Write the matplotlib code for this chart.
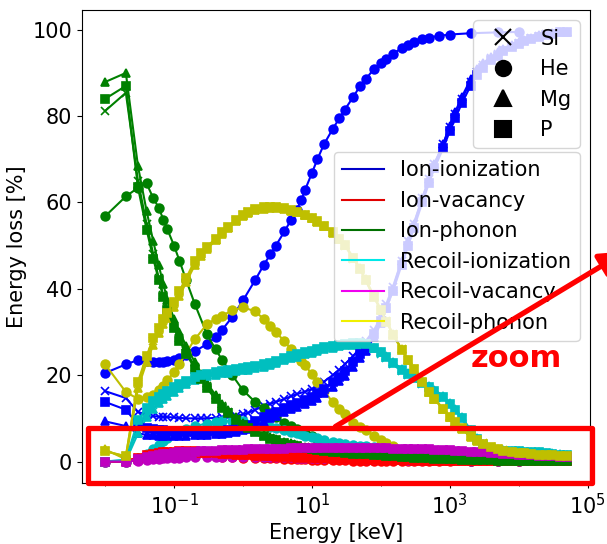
import matplotlib
matplotlib.use("Agg")
import matplotlib.pyplot as plt
from matplotlib.lines import Line2D
from matplotlib.patches import Rectangle, FancyArrowPatch
from matplotlib.ticker import FixedLocator, NullFormatter

# ---------------------------------------------------------------------------
# Energy grids [keV]
# ---------------------------------------------------------------------------
energy_heavy = [0.01, 0.02, 0.03, 0.04, 0.05, 0.06, 0.07, 0.08,
                0.1, 0.12, 0.15, 0.2, 0.25, 0.3, 0.4, 0.5, 0.6, 0.8,
                1, 1.2, 1.5, 2, 2.5, 3, 4, 5, 6, 8,
                10, 12, 15, 20, 25, 30, 40, 50, 60, 80,
                100, 120, 150, 200, 250, 300, 400, 500, 600, 800,
                1000, 1200, 1500, 2000, 2500, 3000, 4000, 5000, 6000, 8000,
                10000, 12000, 15000, 20000, 25000, 30000, 40000, 50000]

energy_he = [0.01, 0.02, 0.03, 0.04, 0.05, 0.06, 0.07, 0.08,
             0.1, 0.12, 0.15, 0.2, 0.3, 0.4, 0.5, 0.7,
             1, 1.5, 2, 2.5, 3, 4, 5, 6, 7, 8,
             10, 12, 15, 20, 25, 30, 40, 50, 60, 80,
             100, 120, 150, 200, 250, 300, 400, 500, 700,
             1000, 2000, 5000, 10000]

# ---------------------------------------------------------------------------
# Si
# ---------------------------------------------------------------------------
si_ion_ionization = [16.3, 14.7, 11.5, 10.8, 10.5, 10.4, 10.3, 10.3,
                     10.2, 10.1, 10.0, 10.0, 10.0, 10.0, 10.1, 10.2, 10.3, 10.6,
                     10.9, 11.3, 12.0, 12.8, 13.4, 13.8, 14.5, 15.1, 15.6, 16.2,
                     16.8, 17.5, 18.5, 20.0, 21.3, 22.5, 24.5, 26.3, 27.8, 30.5,
                     33.5, 36.5, 40.5, 46.5, 51.0, 55.0, 61.0, 65.5, 69.0, 73.5,
                     77.5, 80.5, 84.0, 88.0, 90.3, 91.8, 93.5, 94.5, 95.3, 96.3,
                     97.0, 97.5, 98.0, 98.6, 99.0, 99.2, 99.5, 99.6]
si_ion_vacancy = [0.0, 0.1, 0.8, 1.3, 1.6, 1.8, 2.0, 2.1,
                  2.2, 2.3, 2.3, 2.3, 2.2, 2.2, 2.1, 2.0, 1.9, 1.8,
                  1.7, 1.6, 1.5, 1.4, 1.3, 1.25, 1.15, 1.1, 1.0, 0.95,
                  0.9, 0.85, 0.8, 0.75, 0.7, 0.65, 0.6, 0.55, 0.5, 0.45,
                  0.4, 0.38, 0.35, 0.3, 0.28, 0.25, 0.22, 0.2, 0.18, 0.16,
                  0.15, 0.13, 0.12, 0.1, 0.09, 0.08, 0.07, 0.06, 0.05, 0.05,
                  0.04, 0.04, 0.03, 0.03, 0.03, 0.02, 0.02, 0.02]
si_ion_phonon = [81.2, 85.4, 65.0, 55.0, 48.0, 42.5, 38.5, 35.5,
                 31.5, 28.5, 25.5, 22.0, 19.5, 17.5, 14.8, 12.8, 11.5, 9.9,
                 8.6, 7.8, 6.9, 6.0, 5.4, 5.0, 4.4, 4.0, 3.7, 3.3,
                 3.0, 2.8, 2.6, 2.4, 2.2, 2.1, 1.9, 1.8, 1.7, 1.55,
                 1.45, 1.35, 1.25, 1.1, 1.0, 0.95, 0.85, 0.75, 0.7, 0.6,
                 0.55, 0.5, 0.45, 0.4, 0.35, 0.3, 0.25, 0.22, 0.2, 0.17,
                 0.15, 0.13, 0.12, 0.1, 0.09, 0.08, 0.07, 0.06]
si_recoil_ionization = [0.0, 0.3, 8.0, 11.5, 13.2, 14.3, 15.1, 15.8,
                        16.8, 17.5, 18.3, 19.2, 19.7, 20.0, 20.4, 20.6, 20.8, 21.1,
                        21.3, 21.5, 21.8, 22.2, 22.6, 23.0, 23.6, 24.1, 24.5, 25.0,
                        25.4, 25.8, 26.2, 26.5, 26.8, 27.0, 27.2, 27.2, 27.0, 26.0,
                        25.0, 24.0, 22.5, 21.0, 20.0, 19.2, 18.0, 17.0, 16.2, 14.8,
                        13.2, 11.8, 9.8, 7.0, 5.0, 3.8, 2.9, 2.6, 2.5, 2.4,
                        2.4, 2.3, 2.2, 2.0, 1.9, 1.8, 1.6, 1.4]
si_recoil_vacancy = [0.0, 0.0, 0.5, 0.9, 1.2, 1.4, 1.6, 1.7,
                     1.9, 2.0, 2.1, 2.2, 2.3, 2.3, 2.4, 2.5, 2.5, 2.6,
                     2.6, 2.7, 2.7, 2.8, 2.8, 2.9, 2.9, 3.0, 3.0, 3.0,
                     3.1, 3.1, 3.1, 3.1, 3.1, 3.1, 3.1, 3.1, 3.1, 3.0,
                     3.0, 3.0, 2.9, 2.9, 2.8, 2.8, 2.7, 2.7, 2.6, 2.5,
                     2.5, 2.4, 2.3, 2.2, 2.1, 2.0, 1.9, 1.8, 1.7, 1.6,
                     1.5, 1.45, 1.4, 1.3, 1.25, 1.2, 1.1, 1.0]
si_recoil_phonon = [2.4, 1.2, 18.0, 24.0, 28.0, 30.5, 32.5, 34.0,
                    36.5, 39.0, 42.0, 46.0, 48.0, 49.5, 51.4, 53.0, 54.2, 55.8,
                    57.0, 57.7, 58.3, 58.7, 58.9, 58.9, 58.6, 58.2, 57.8, 57.0,
                    56.3, 55.5, 54.5, 53.0, 51.5, 50.0, 47.0, 44.5, 42.0, 38.0,
                    35.0, 32.5, 29.5, 26.0, 23.5, 21.5, 18.5, 16.3, 14.5, 12.3,
                    10.5, 9.2, 7.8, 6.0, 5.0, 4.2, 3.4, 2.9, 2.6, 2.3,
                    2.1, 1.9, 1.8, 1.6, 1.5, 1.4, 1.3, 1.2]

# ---------------------------------------------------------------------------
# He
# ---------------------------------------------------------------------------
he_ion_ionization = [20.5, 22.5, 23.5, 23.3, 23.0, 23.0, 23.1, 23.2,
                     23.5, 24.0, 24.6, 25.5, 27.2, 28.8, 30.5, 33.5,
                     37.3, 42.0, 45.5, 48.0, 50.0, 53.3, 56.0, 58.3, 60.5, 63.0,
                     66.8, 70.0, 73.5, 77.0, 79.5, 81.5, 84.5, 87.0, 88.5, 91.0,
                     92.3, 93.3, 94.5, 95.7, 96.5, 97.1, 97.8, 98.2, 98.6,
                     98.9, 99.2, 99.4, 99.5]
he_ion_vacancy = [0.0, 0.0, 0.3, 0.6, 0.8, 1.0, 1.1, 1.2,
                  1.3, 1.3, 1.3, 1.3, 1.2, 1.2, 1.1, 1.0,
                  0.9, 0.8, 0.8, 0.7, 0.7, 0.6, 0.6, 0.5, 0.5, 0.5,
                  0.4, 0.4, 0.35, 0.3, 0.3, 0.25, 0.2, 0.2, 0.2, 0.15,
                  0.15, 0.1, 0.1, 0.1, 0.1, 0.1, 0.05, 0.05, 0.05,
                  0.05, 0.03, 0.02, 0.02]
he_ion_phonon = [56.8, 61.4, 63.4, 64.4, 61.0, 58.8, 56.0, 53.8,
                 50.0, 46.5, 42.0, 36.5, 29.5, 26.0, 23.5, 20.0,
                 16.5, 13.8, 12.3, 11.2, 10.3, 9.0, 8.2, 7.5, 7.0, 6.6,
                 5.9, 5.3, 4.7, 4.0, 3.5, 3.2, 2.7, 2.4, 2.1, 1.8,
                 1.6, 1.4, 1.2, 1.0, 0.9, 0.8, 0.6, 0.5, 0.4,
                 0.3, 0.2, 0.1, 0.1]
he_recoil_ionization = [0.0, 0.0, 0.8, 1.8, 2.8, 3.8, 4.7, 5.5,
                        6.3, 7.0, 7.6, 8.2, 8.8, 9.1, 9.3, 9.4,
                        9.3, 9.0, 8.6, 8.0, 7.8, 7.3, 6.9, 6.6, 6.3, 6.0,
                        5.7, 5.4, 5.0, 4.5, 4.3, 4.1, 3.8, 3.6, 3.5, 3.3,
                        3.0, 2.8, 2.6, 2.4, 2.2, 2.0, 1.8, 1.6, 1.4,
                        1.2, 0.9, 0.7, 0.5]
he_recoil_vacancy = [0.0, 0.0, 0.2, 0.4, 0.5, 0.6, 0.7, 0.8,
                     0.9, 0.9, 1.0, 1.0, 1.1, 1.1, 1.1, 1.1,
                     1.1, 1.1, 1.0, 1.0, 1.0, 1.0, 1.0, 0.9, 0.9, 0.9,
                     0.9, 0.9, 0.8, 0.8, 0.8, 0.7, 0.7, 0.7, 0.6, 0.6,
                     0.6, 0.5, 0.5, 0.5, 0.4, 0.4, 0.4, 0.3, 0.3,
                     0.3, 0.2, 0.2, 0.1]
he_recoil_phonon = [22.5, 16.1, 14.5, 15.0, 15.5, 16.5, 17.6, 18.8,
                    20.8, 22.5, 25.2, 28.3, 31.8, 33.0, 33.8, 35.0,
                    35.7, 34.8, 33.0, 31.3, 30.0, 27.8, 26.0, 24.5, 23.3, 22.3,
                    20.2, 18.3, 16.3, 13.8, 12.2, 10.9, 9.0, 8.0, 7.2, 6.0,
                    5.0, 4.4, 3.6, 2.5, 2.2, 1.9, 1.7, 1.5, 1.3,
                    1.1, 0.9, 0.7, 0.5]

# ---------------------------------------------------------------------------
# Mg
# ---------------------------------------------------------------------------
mg_ion_ionization = [9.3, 8.2, 6.5, 6.2, 6.1, 6.0, 6.0, 6.0,
                     6.0, 6.0, 6.0, 6.1, 6.1, 6.2, 6.3, 6.4, 6.6, 6.9,
                     7.2, 7.6, 8.3, 9.2, 10.0, 10.6, 11.4, 12.1, 12.7, 13.4,
                     14.0, 14.8, 15.8, 17.3, 18.6, 19.9, 22.0, 24.0, 25.6, 28.8,
                     32.0, 35.5, 40.0, 46.5, 51.0, 55.0, 61.0, 65.5, 69.0, 73.5,
                     77.8, 81.0, 84.5, 88.5, 90.8, 92.2, 93.8, 94.8, 95.6, 96.5,
                     97.2, 97.7, 98.2, 98.8, 99.1, 99.3, 99.5, 99.6]
mg_ion_vacancy = [0.0, 0.1, 0.7, 1.2, 1.5, 1.7, 1.8, 1.9,
                  2.0, 2.1, 2.1, 2.1, 2.0, 2.0, 1.9, 1.8, 1.7, 1.6,
                  1.5, 1.45, 1.35, 1.25, 1.2, 1.1, 1.05, 1.0, 0.92, 0.86,
                  0.8, 0.76, 0.72, 0.66, 0.62, 0.58, 0.53, 0.49, 0.45, 0.4,
                  0.36, 0.33, 0.3, 0.27, 0.25, 0.22, 0.2, 0.18, 0.16, 0.14,
                  0.13, 0.12, 0.1, 0.09, 0.08, 0.07, 0.06, 0.05, 0.05, 0.04,
                  0.04, 0.03, 0.03, 0.03, 0.02, 0.02, 0.02, 0.02]
mg_ion_phonon = [87.9, 90.0, 68.4, 58.0, 51.0, 45.5, 41.0, 37.5,
                 33.0, 30.0, 26.8, 23.0, 20.3, 18.2, 15.4, 13.3, 11.9, 10.2,
                 8.9, 8.0, 7.1, 6.2, 5.6, 5.2, 4.6, 4.2, 3.9, 3.4,
                 3.1, 2.9, 2.7, 2.5, 2.3, 2.2, 2.0, 1.85, 1.75, 1.6,
                 1.5, 1.4, 1.3, 1.15, 1.05, 1.0, 0.9, 0.8, 0.72, 0.63,
                 0.57, 0.52, 0.47, 0.41, 0.36, 0.32, 0.27, 0.23, 0.21, 0.18,
                 0.16, 0.14, 0.12, 0.1, 0.09, 0.08, 0.07, 0.06]
mg_recoil_ionization = [0.0, 0.2, 6.5, 10.2, 12.2, 13.5, 14.4, 15.1,
                        16.2, 17.0, 17.9, 18.8, 19.3, 19.7, 20.1, 20.4, 20.6, 20.9,
                        21.1, 21.3, 21.6, 22.0, 22.4, 22.8, 23.4, 23.9, 24.3, 24.8,
                        25.2, 25.6, 26.0, 26.4, 26.7, 26.9, 27.1, 27.1, 26.9, 26.2,
                        25.3, 24.4, 23.0, 21.5, 20.4, 19.6, 18.4, 17.4, 16.6, 15.2,
                        13.6, 12.2, 10.2, 7.4, 5.4, 4.1, 3.1, 2.7, 2.6, 2.5,
                        2.4, 2.3, 2.2, 2.1, 2.0, 1.9, 1.7, 1.5]
mg_recoil_vacancy = [0.0, 0.0, 0.4, 0.8, 1.1, 1.3, 1.5, 1.6,
                     1.8, 1.9, 2.0, 2.1, 2.2, 2.2, 2.3, 2.4, 2.4, 2.5,
                     2.5, 2.6, 2.6, 2.7, 2.7, 2.8, 2.8, 2.9, 2.9, 2.9,
                     3.0, 3.0, 3.0, 3.0, 3.0, 3.0, 3.0, 3.0, 3.0, 2.9,
                     2.9, 2.9, 2.8, 2.8, 2.7, 2.7, 2.6, 2.6, 2.5, 2.4,
                     2.4, 2.3, 2.2, 2.1, 2.0, 1.9, 1.8, 1.7, 1.6, 1.5,
                     1.45, 1.4, 1.35, 1.25, 1.2, 1.15, 1.05, 1.0]
mg_recoil_phonon = [2.8, 0.5, 17.0, 23.0, 27.0, 29.8, 31.8, 33.3,
                    35.8, 38.3, 41.5, 45.5, 47.6, 49.2, 51.2, 52.8, 54.0, 55.6,
                    56.8, 57.6, 58.2, 58.6, 58.8, 58.8, 58.5, 58.1, 57.7, 57.0,
                    56.3, 55.5, 54.5, 53.0, 51.6, 50.2, 47.2, 44.8, 42.2, 38.3,
                    35.2, 32.6, 29.5, 26.0, 23.4, 21.4, 18.4, 16.2, 14.4, 12.1,
                    10.2, 8.9, 7.5, 5.7, 4.7, 4.0, 3.2, 2.8, 2.5, 2.2,
                    2.0, 1.9, 1.7, 1.6, 1.5, 1.4, 1.3, 1.2]

# ---------------------------------------------------------------------------
# P
# ---------------------------------------------------------------------------
p_ion_ionization = [13.8, 12.0, 8.5, 7.8, 7.5, 7.3, 7.2, 7.1,
                    7.0, 7.0, 6.9, 6.9, 6.9, 6.9, 7.0, 7.1, 7.3, 7.6,
                    8.0, 8.5, 9.3, 10.2, 10.9, 11.5, 12.3, 13.0, 13.6, 14.3,
                    15.0, 15.8, 16.8, 18.3, 19.6, 20.9, 23.0, 24.9, 26.5, 29.5,
                    32.5, 35.5, 39.5, 45.5, 50.0, 54.0, 60.0, 64.5, 68.0, 72.5,
                    76.5, 79.5, 83.0, 87.0, 89.5, 91.2, 93.0, 94.0, 95.0, 96.0,
                    96.7, 97.3, 97.8, 98.4, 98.8, 99.1, 99.4, 99.5]
p_ion_vacancy = [0.0, 0.1, 0.9, 1.4, 1.7, 1.9, 2.1, 2.2,
                 2.3, 2.4, 2.4, 2.4, 2.3, 2.3, 2.2, 2.1, 2.0, 1.9,
                 1.8, 1.7, 1.6, 1.5, 1.4, 1.35, 1.25, 1.2, 1.1, 1.0,
                 0.95, 0.9, 0.85, 0.8, 0.75, 0.7, 0.65, 0.6, 0.55, 0.5,
                 0.45, 0.42, 0.38, 0.33, 0.3, 0.27, 0.24, 0.22, 0.2, 0.18,
                 0.16, 0.14, 0.13, 0.11, 0.1, 0.09, 0.08, 0.07, 0.06, 0.05,
                 0.05, 0.04, 0.04, 0.03, 0.03, 0.03, 0.02, 0.02]
p_ion_phonon = [84.0, 87.0, 63.5, 53.7, 47.0, 42.0, 38.0, 35.0,
                31.0, 28.0, 25.0, 21.5, 19.0, 17.0, 14.4, 12.5, 11.2, 9.7,
                8.5, 7.7, 6.8, 5.9, 5.3, 4.9, 4.3, 3.9, 3.6, 3.2,
                2.9, 2.7, 2.5, 2.3, 2.1, 2.0, 1.85, 1.75, 1.65, 1.5,
                1.4, 1.3, 1.2, 1.05, 0.97, 0.9, 0.8, 0.72, 0.66, 0.58,
                0.52, 0.47, 0.43, 0.38, 0.33, 0.29, 0.24, 0.21, 0.19, 0.16,
                0.14, 0.12, 0.11, 0.1, 0.09, 0.08, 0.07, 0.06]
p_recoil_ionization = [0.0, 0.4, 9.5, 12.5, 14.0, 15.0, 15.7, 16.3,
                       17.3, 18.0, 18.7, 19.5, 20.0, 20.3, 20.7, 20.9, 21.1, 21.4,
                       21.6, 21.8, 22.1, 22.5, 22.9, 23.3, 23.9, 24.4, 24.8, 25.3,
                       25.7, 26.1, 26.5, 26.8, 27.0, 27.2, 27.4, 27.4, 27.2, 26.3,
                       25.3, 24.3, 22.8, 21.3, 20.2, 19.4, 18.2, 17.2, 16.4, 15.0,
                       13.4, 12.0, 10.0, 7.2, 5.2, 3.9, 3.0, 2.6, 2.5, 2.4,
                       2.4, 2.3, 2.2, 2.1, 2.0, 1.8, 1.6, 1.4]
p_recoil_vacancy = [0.0, 0.0, 0.6, 1.0, 1.3, 1.5, 1.7, 1.8,
                    2.0, 2.1, 2.2, 2.3, 2.4, 2.4, 2.5, 2.6, 2.6, 2.7,
                    2.7, 2.8, 2.8, 2.9, 2.9, 3.0, 3.0, 3.1, 3.1, 3.1,
                    3.2, 3.2, 3.2, 3.2, 3.2, 3.2, 3.2, 3.2, 3.2, 3.1,
                    3.1, 3.1, 3.0, 3.0, 2.9, 2.9, 2.8, 2.8, 2.7, 2.6,
                    2.6, 2.5, 2.4, 2.3, 2.2, 2.1, 2.0, 1.9, 1.8, 1.7,
                    1.6, 1.5, 1.45, 1.35, 1.3, 1.25, 1.15, 1.05]
p_recoil_phonon = [2.4, 1.2, 18.5, 24.5, 28.5, 31.0, 33.0, 34.5,
                   37.0, 39.5, 42.5, 46.5, 48.4, 49.8, 51.6, 53.2, 54.4, 56.0,
                   57.2, 57.9, 58.5, 58.9, 59.0, 59.0, 58.7, 58.3, 57.9, 57.1,
                   56.4, 55.6, 54.6, 53.1, 51.6, 50.1, 47.1, 44.6, 42.0, 38.0,
                   35.0, 32.4, 29.4, 25.9, 23.4, 21.4, 18.4, 16.2, 14.4, 12.2,
                   10.4, 9.1, 7.7, 5.9, 4.9, 4.1, 3.3, 2.8, 2.5, 2.2,
                   2.0, 1.9, 1.7, 1.6, 1.5, 1.4, 1.3, 1.2]

# ---------------------------------------------------------------------------
ions = ["Si", "He", "Mg", "P"]
ion_markers = ["x", "o", "^", "s"]
channels = ["Ion-ionization", "Ion-vacancy", "Ion-phonon",
            "Recoil-ionization", "Recoil-vacancy", "Recoil-phonon"]
line_colors = ["b", "r", "g", "c", "m", "y"]
legend_colors = ["#0000c8", "#e00000", "#007000", "#00e8e8", "#f000f0", "#f0f000"]
major_ticks = [1e-1, 1e1, 1e3, 1e5]
minor_ticks = [1e-2, 1e0, 1e2, 1e4]
y_ticks = [0, 20, 40, 60, 80, 100]

series = {
    "Si": (energy_heavy, [si_ion_ionization, si_ion_vacancy, si_ion_phonon,
                          si_recoil_ionization, si_recoil_vacancy, si_recoil_phonon]),
    "He": (energy_he, [he_ion_ionization, he_ion_vacancy, he_ion_phonon,
                       he_recoil_ionization, he_recoil_vacancy, he_recoil_phonon]),
    "Mg": (energy_heavy, [mg_ion_ionization, mg_ion_vacancy, mg_ion_phonon,
                          mg_recoil_ionization, mg_recoil_vacancy, mg_recoil_phonon]),
    "P": (energy_heavy, [p_ion_ionization, p_ion_vacancy, p_ion_phonon,
                         p_recoil_ionization, p_recoil_vacancy, p_recoil_phonon]),
}

FS = 15
W, H = 607, 544
fig = plt.figure(figsize=(W / 100, H / 100), dpi=100)
ax = fig.add_axes([82 / W, 1 - 483 / H, 508 / W, 473 / H])

for ion, mk in zip(ions, ion_markers):
    energies, curves = series[ion]
    for values, col in zip(curves, line_colors):
        ax.plot(energies, values, color=col, marker=mk, ms=6.3, lw=1.5, mew=1.2)

ax.set_xscale("log")
ax.xaxis.set_major_locator(FixedLocator(major_ticks))
ax.xaxis.set_minor_locator(FixedLocator(minor_ticks))
ax.xaxis.set_minor_formatter(NullFormatter())
ax.set_yticks(y_ticks)
ax.set_xlabel("Energy [keV]", fontsize=FS)
ax.set_ylabel("Energy loss [%]", fontsize=FS)
ax.tick_params(axis="both", which="major", labelsize=FS)

marker_handles = [Line2D([], [], ls="none", marker=m, color="k", ms=11, mew=1.5)
                  for m in ion_markers]
leg_ions = ax.legend(marker_handles, ions, loc="upper right", fontsize=FS)
ax.add_artist(leg_ions)
color_handles = [Line2D([], [], color=c, lw=1.5) for c in legend_colors]
ax.legend(color_handles, channels, loc="center right", fontsize=FS)

# zoom-in marker: frame around the low-percentage band and a pointer
def fpx(x, y):
    return x / W, 1 - y / H

x0, y0 = fpx(87.5, 483)
x1, y1 = fpx(591.5, 427.5)
fig.patches.append(Rectangle((x0, y0), x1 - x0, y1 - y0, transform=fig.transFigure,
                             fill=False, ec="red", lw=3.8, joinstyle="round",
                             figure=fig))
fig.add_artist(FancyArrowPatch(
    fpx(333, 428), fpx(628, 250), transform=fig.transFigure,
    arrowstyle="-|>", mutation_scale=38, lw=3.8, color="red"))
fig.text(516 / W, 1 - 367 / H, "zoom", color="red", fontsize=22,
         fontweight="bold", ha="center", va="baseline")

fig.savefig("out.png", dpi=100)
